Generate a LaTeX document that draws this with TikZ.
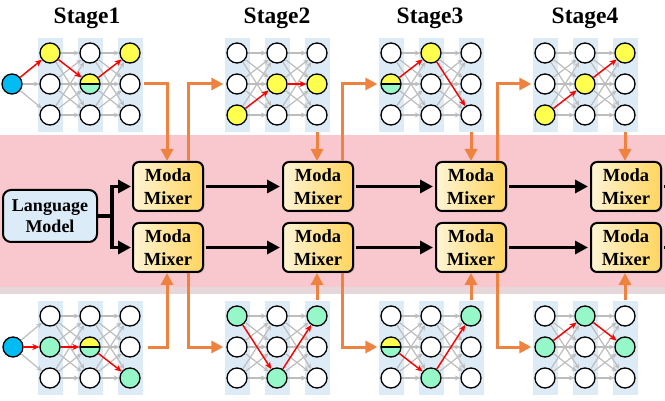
\documentclass[tikz,border=0pt]{standalone}
\usepackage{fontspec}
\setmainfont{Liberation Serif}
\usetikzlibrary{arrows.meta,shadows}
\definecolor{pinkband}{HTML}{F8C8CE}
\definecolor{pinkedge}{HTML}{E6D8DA}
\definecolor{colbg}{HTML}{DDEBF7}
\definecolor{nyel}{HTML}{FFFF4D}
\definecolor{ngrn}{HTML}{96F8C8}
\definecolor{nblu}{HTML}{00BCF2}
\definecolor{orng}{HTML}{F0823F}
\definecolor{lmfill}{HTML}{DCEBF8}
\definecolor{mixL}{HTML}{FFF4D4}
\definecolor{mixR}{HTML}{FFD55E}
\definecolor{conn}{HTML}{BDBDBD}
\tikzset{
  neu/.style={circle, draw=black, line width=1.3pt, minimum size=20pt, inner sep=0pt},
  nw/.style={neu, fill=white},
  ny/.style={neu, fill=nyel},
  ng/.style={neu, fill=ngrn},
  nb/.style={neu, fill=nblu},
  nh/.style={neu, path picture={
      \fill[nyel] (path picture bounding box.north west) rectangle (path picture bounding box.east);
      \fill[ngrn] (path picture bounding box.west) rectangle (path picture bounding box.south east);
      \draw[line width=1.3pt] (path picture bounding box.west) -- (path picture bounding box.east);}},
  gconn/.style={conn, line width=1.2pt, -{Stealth[length=5.5pt,width=5pt]}},
  rconn/.style={red, line width=1.4pt, -{Stealth[length=7pt,width=6pt]}},
  oarr/.style={orng, line width=3pt, -{Triangle[length=12pt,width=12pt]}},
  barr/.style={black, line width=3.2pt, -{Triangle[length=13pt,width=13pt]}},
  bline/.style={black, line width=3.2pt},
  mixer/.style={draw=black, line width=2pt, rounded corners=6pt, left color=mixL, right color=mixR,
     minimum width=70pt, minimum height=49pt, inner sep=0pt, align=center,
     font=\fontsize{18.5}{22.5}\selectfont\bfseries,
     drop shadow={shadow xshift=1.5pt,shadow yshift=-1.5pt,opacity=0.25}},
  lm/.style={draw=black, line width=2pt, rounded corners=8pt, fill=lmfill, minimum width=94pt,
     minimum height=52pt, inner sep=0pt, align=center, font=\fontsize{18}{20.5}\selectfont\bfseries},
  stagelbl/.style={font=\fontsize{23.5}{26}\selectfont\bfseries}
}
\newcommand\mknet[4]{%
  \foreach \c in {0,1,2} \fill[colbg] ({#2+\c*40-12.5},{#3-15}) rectangle ++(25,94);
  \foreach \s [count=\i from 0] in {#4} {
    \pgfmathtruncatemacro\cc{div(\i,3)+1}
    \pgfmathtruncatemacro\rr{mod(\i,3)+1}
    \node[\s] (#1-\cc-\rr) at ({#2+(\cc-1)*40},{#3+(\rr-1)*31}) {};
  }
  \foreach \c/\d in {1/2,2/3} \foreach \r in {1,2,3} \foreach \t in {1,2,3}
    \draw[gconn] (#1-\c-\r) -- (#1-\d-\t);
}
\begin{document}
\begin{tikzpicture}[x=1pt,y=-1pt]
\clip (0,0) rectangle (665,401);
\fill[white] (0,0) rectangle (665,401);
% band
\fill[pinkband] (0,135) rectangle (665,287);
\fill[pinkedge] (0,287) rectangle (665,294);
% stage labels
\node[stagelbl] (s1) at (87,18) {Stage1};
\node[stagelbl] (s2) at (277,18) {Stage2};
\node[stagelbl] (s3) at (430,18) {Stage3};
\node[stagelbl] (s4) at (585,18) {Stage4};
% networks
\mknet{t1}{50}{53}{ny,nw,nw,nw,nh,nw,ny,nw,nw}
\mknet{b1}{50}{316}{nw,ng,nw,nw,nh,nw,nw,nw,ng}
\mknet{t2}{237}{53}{nw,nw,ny,nw,ny,nw,nw,ny,nw}
\mknet{b2}{237}{316}{ng,nw,nw,nw,nw,ng,ng,nw,nw}
\mknet{t3}{391}{53}{nw,nh,nw,ny,nw,nw,nw,nw,nw}
\mknet{b3}{391}{316}{nw,nh,nw,nw,nw,ng,ng,nw,nw}
\mknet{t4}{545}{53}{nw,nw,ny,nw,ny,nw,ny,nw,nw}
\mknet{b4}{545}{316}{nw,ng,nw,ng,nw,nw,nw,ng,nw}
\node[nb] (in1t) at (12,84) {};
\node[nb] (in1b) at (13,347) {};
\foreach \r in {1,2,3} {
  \draw[gconn] (in1t) -- (t1-1-\r);
  \draw[gconn] (in1b) -- (b1-1-\r);
}
% red paths
\draw[rconn] (in1t) -- (t1-1-1);
\draw[rconn] (t1-1-1) -- (t1-2-2);
\draw[rconn] (t1-2-2) -- (t1-3-1);
\draw[rconn] (in1b) -- (b1-1-2);
\draw[rconn] (b1-1-2) -- (b1-2-2);
\draw[rconn] (b1-2-2) -- (b1-3-3);
\draw[rconn] (t2-1-3) -- (t2-2-2);
\draw[rconn] (t2-2-2) -- (t2-3-2);
\draw[rconn] (b2-1-1) -- (b2-2-3);
\draw[rconn] (b2-2-3) -- (b2-3-1);
\draw[rconn] (t3-1-2) -- (t3-2-1);
\draw[rconn] (t3-2-1) -- (t3-3-3);
\draw[rconn] (b3-1-2) -- (b3-2-3);
\draw[rconn] (b3-2-3) -- (b3-3-1);
\draw[rconn] (t4-1-3) -- (t4-2-2);
\draw[rconn] (t4-2-2) -- (t4-3-1);
\draw[rconn] (b4-1-2) -- (b4-2-1);
\draw[rconn] (b4-2-1) -- (b4-3-2);
% mixers
\node[mixer] (mx1t) at (168,186.5) {Moda\\Mixer};
\node[mixer] (mx1b) at (168,247.5) {Moda\\Mixer};
\node[mixer] (mx2t) at (318,186.5) {Moda\\Mixer};
\node[mixer] (mx2b) at (318,247.5) {Moda\\Mixer};
\node[mixer] (mx3t) at (471,186.5) {Moda\\Mixer};
\node[mixer] (mx3b) at (471,247.5) {Moda\\Mixer};
\node[mixer] (mx4t) at (626,186.5) {Moda\\Mixer};
\node[mixer] (mx4b) at (626,247.5) {Moda\\Mixer};
\node[lm] (lm) at (50,216) {Language\\Model};
% orange connectors (top)
\draw[oarr] ([xshift=3pt]t1-3-2.east) -| ([xshift=-1pt]mx1t.north);
\draw[oarr] ([xshift=20pt]mx1t.north) |- ([xshift=-3pt]t2-1-2.west);
\draw[oarr] ([yshift=-17pt]t2-3-3.center) -- (t2-3-3.center |- mx2t.north);
\draw[oarr] ([xshift=24pt]mx2t.north) |- ([xshift=-3pt]t3-1-2.west);
\draw[oarr] ([yshift=-17pt]t3-3-3.center) -- (t3-3-3.center |- mx3t.north);
\draw[oarr] ([xshift=26pt]mx3t.north) |- ([xshift=-3pt]t4-1-2.west);
\draw[oarr] ([yshift=-17pt]t4-3-3.center) -- (t4-3-3.center |- mx4t.north);
% orange connectors (bottom)
\draw[oarr] ([xshift=7pt]b1-3-2.east) -| ([xshift=-1pt]mx1b.south);
\draw[oarr] ([xshift=20pt]mx1b.south) |- ([xshift=-3pt]b2-1-2.west);
\draw[oarr] ([yshift=16pt]b2-3-1.center) -- (b2-3-1.center |- mx2b.south);
\draw[oarr] ([xshift=24pt]mx2b.south) |- ([xshift=-3pt]b3-1-2.west);
\draw[oarr] ([yshift=16pt]b3-3-1.center) -- (b3-3-1.center |- mx3b.south);
\draw[oarr] ([xshift=26pt]mx3b.south) |- ([xshift=-3pt]b4-1-2.west);
\draw[oarr] ([yshift=16pt]b4-3-1.center) -- (b4-3-1.center |- mx4b.south);
% black connectors
\coordinate (sp) at (112,216);
\draw[bline] (lm.east) -- (sp);
\draw[barr, shorten >=1pt] (sp) |- (mx1t.west);
\draw[barr, shorten >=1pt] (sp) |- (mx1b.west);
\foreach \a/\b in {1/2,2/3,3/4} {
  \draw[barr, shorten <=2pt, shorten >=2pt] (mx\a t) -- (mx\b t);
  \draw[barr, shorten <=2pt, shorten >=2pt] (mx\a b) -- (mx\b b);
}
\draw[barr, shorten <=2pt] (mx4t.east) -- ++(30,0);
\draw[barr, shorten <=2pt] (mx4b.east) -- ++(30,0);
\end{tikzpicture}
\end{document}
